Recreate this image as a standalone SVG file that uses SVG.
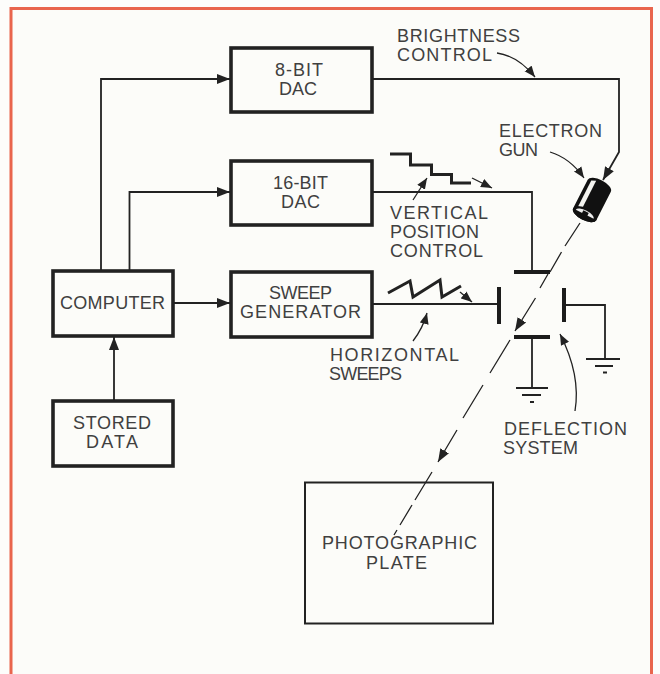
<svg xmlns="http://www.w3.org/2000/svg" width="660" height="674" viewBox="0 0 660 674">
<style>
text{font-family:"Liberation Sans",Arial,sans-serif;font-size:18px;fill:#404040}
.box{fill:none;stroke:#222;stroke-width:3.600}
.w{fill:none;stroke:#222;stroke-width:1.800}
.t{fill:none;stroke:#222;stroke-width:1.300}
.p{fill:none;stroke:#1c1c1c;stroke-width:4}
.s{fill:none;stroke:#222;stroke-width:3}
</style>
<defs>
<marker id="a" markerUnits="userSpaceOnUse" markerWidth="14" markerHeight="12" refX="13" refY="6" orient="auto"><path d="M0 1L13 6L0 11Z" fill="#222"/></marker>
<marker id="b" markerUnits="userSpaceOnUse" markerWidth="12" markerHeight="10" refX="11" refY="5" orient="auto"><path d="M0 .5L11 5L0 9.500Z" fill="#222"/></marker>
</defs>
<rect width="660" height="674" fill="#fdfdfb"/>
<path d="M11 674V8.500H651.500V674Z" fill="#fcfcf9"/>
<path d="M11 674V8.500H651.500V674" fill="none" stroke="#e9654d" stroke-width="3"/>

<g id="connectors">
<path class="w" d="M101 271V79H230" marker-end="url(#a)"/>
<path class="w" d="M129.500 271V192H230" marker-end="url(#a)"/>
<path class="w" d="M173 303H230" marker-end="url(#a)"/>
<path class="w" d="M114 400V337" marker-end="url(#a)"/>
<path class="w" d="M372 79H619V152L603 180" marker-end="url(#a)"/>
<path class="w" d="M372 192H532V272"/>
<path class="w" d="M372 304H499"/>
<path class="w" d="M564 305H605V359"/>
<path class="w" d="M532 337V388"/>
<path class="t" d="M580 223L565 246M561.500 252L550 272M548 274L540 288M535.500 298L515 331" marker-end="url(#a)"/>
<path class="t" d="M510 340L490 373M483 385L463 418M457 430L438 462" marker-end="url(#a)"/>
<path class="t" d="M432 472L415 500M412 505L400 525M397 530L394 535"/>
<path class="t" d="M497 53Q518 56 535 77" marker-end="url(#b)"/>
<path class="t" d="M550 152Q570 158 584 178" marker-end="url(#b)"/>
<path class="t" d="M472 178L492 188" marker-end="url(#b)"/>
<path class="t" d="M413 200L427 178" marker-end="url(#b)"/>
<path class="t" d="M460 292L472 302" marker-end="url(#b)"/>
<path class="t" d="M413 341Q423 328 427 313" marker-end="url(#b)"/>
<path class="t" d="M575 411Q581 375 560 334" marker-end="url(#b)"/>
</g>

<g id="computer"><rect class="box" x="53" y="271" width="120" height="65"/><text x="60" y="309" textLength="105">COMPUTER</text></g>
<g id="stored-data"><rect class="box" x="53" y="401" width="120" height="65"/><text x="73" y="429" textLength="78">STORED</text><text x="86" y="448" textLength="52">DATA</text></g>
<g id="dac8"><rect class="box" x="231" y="48" width="141" height="64"/><text x="275" y="76" textLength="48">8-BIT</text><text x="279" y="95" textLength="38">DAC</text></g>
<g id="dac16"><rect class="box" x="231" y="161" width="141" height="64"/><text x="273" y="189" textLength="55">16-BIT</text><text x="281" y="208" textLength="39">DAC</text></g>
<g id="sweep"><rect class="box" x="231" y="272" width="141" height="65"/><text x="269" y="299" textLength="63">SWEEP</text><text x="240" y="318" textLength="121">GENERATOR</text></g>
<g id="plate"><rect x="305" y="482.500" width="188" height="141" fill="none" stroke="#222" stroke-width="2"/><text x="322" y="549" textLength="155">PHOTOGRAPHIC</text><text x="366" y="569" textLength="61">PLATE</text></g>

<g id="gun" transform="translate(592 200) rotate(27)">
<path d="M-13 -16A13 6 0 0 1 13 -16V16A13 6 0 0 1 -13 16Z" fill="#111"/>
<path d="M-9.500 -17L-5 -19V10L-9.500 12Z" fill="#f4f4f0"/>
<ellipse cx="0" cy="16" rx="13" ry="6" fill="#111"/>
<path d="M-10 16A10 4 0 0 1 10 16Z" fill="#eee"/>
<path d="M-3 13H3V20H-3Z" fill="#111"/>
</g>

<g id="deflection">
<path class="p" d="M514 272H550M514 337H550M499 287V324M564 288V322"/>
<path class="w" d="M586 359H620M595 366H613M603 372.500H607M516 388H548M522 395H541M530 402H534"/>
</g>

<g id="waveforms">
<path class="s" d="M390 154H410.500V165H431.500V174.500H451.500V183H471"/>
<path class="s" d="M388 293L410 281L413 297L440 280L442 297L461 286" stroke-width="2.500"/>
</g>

<g id="labels">
<text x="397" y="42" textLength="123">BRIGHTNESS</text><text x="397" y="61" textLength="95">CONTROL</text>
<text x="499" y="137" textLength="103">ELECTRON</text><text x="499" y="156" textLength="39">GUN</text>
<text x="390" y="219" textLength="98">VERTICAL</text><text x="390" y="238" textLength="89">POSITION</text><text x="390" y="257" textLength="93">CONTROL</text>
<text x="330" y="361" textLength="129">HORIZONTAL</text><text x="329" y="380" textLength="73">SWEEPS</text>
<text x="504" y="435" textLength="123">DEFLECTION</text><text x="503" y="454" textLength="75">SYSTEM</text>
</g>
</svg>
